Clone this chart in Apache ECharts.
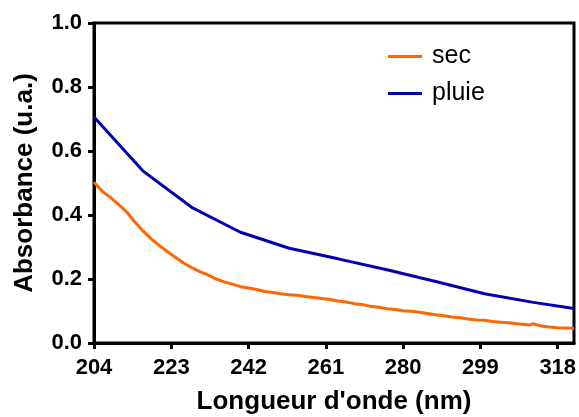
<!DOCTYPE html>
<html>
<head>
<meta charset="utf-8">
<script src="https://cdn.jsdelivr.net/npm/echarts@6/dist/echarts.min.js"></script>
<style>
  html, body { margin: 0; padding: 0; background: #fff; }
  #chart { width: 579px; height: 417px; }
</style>
</head>
<body>
<div id="chart"></div>
<script>
// x ticks shown on the axis (nm)
var xTicks = [204, 223, 242, 261, 280, 299, 318]

// saison sèche : spectre mesuré, pas de 2 nm
var secX = [204, 206, 208, 210, 212, 214, 216, 218, 220, 222, 224, 226, 228, 230, 232, 234, 236, 238, 240, 242,
  244, 246, 248, 250, 252, 254, 256, 258, 260, 262, 264, 266, 268, 270, 272, 274, 276, 278, 280, 282,
  284, 286, 288, 290, 292, 294, 296, 298, 300, 302, 304, 306, 308, 310, 311, 312, 313, 314, 316, 318, 320, 322]
var secY = [0.502, 0.474, 0.455, 0.433, 0.410, 0.379, 0.351, 0.326, 0.305, 0.286, 0.268, 0.250, 0.236, 0.223, 0.213, 0.200, 0.191, 0.184, 0.176, 0.172,
  0.167, 0.161, 0.158, 0.154, 0.151, 0.149, 0.145, 0.142, 0.139, 0.136, 0.131, 0.128, 0.123, 0.120, 0.115, 0.112, 0.107, 0.105, 0.101, 0.099,
  0.096, 0.092, 0.088, 0.085, 0.081, 0.079, 0.075, 0.072, 0.071, 0.067, 0.065, 0.063, 0.060, 0.058, 0.056, 0.060, 0.056, 0.053, 0.050, 0.048, 0.047, 0.046]

// saison des pluies
var pluieX = [204, 216, 228, 240, 252, 264, 276, 288, 300, 312, 322]
var pluieY = [0.706, 0.538, 0.424, 0.346, 0.296, 0.263, 0.229, 0.192, 0.154, 0.127, 0.108]

function pairs(xs, ys) {
  return xs.map(function(x, i) { return [x, ys[i]] })
}

var chart = echarts.init(document.getElementById('chart'))
var font = 'Arial, "Liberation Sans", sans-serif'

chart.setOption({
  animation: false,
  grid: {
    left: 94,
    right: 5,
    top: 23,
    bottom: 74,
    outerBoundsMode: 'none',
    show: true,
    borderColor: '#000',
    borderWidth: 3
  },
  legend: {
    orient: 'vertical',
    left: 383,
    top: 39,
    icon: 'rect',
    itemWidth: 34,
    itemHeight: 3,
    itemGap: 12,
    textStyle: {
      fontFamily: font,
      fontSize: 25,
      color: '#000',
      padding: [0, 0, 0, 5]
    },
    data: ['sec', 'pluie']
  },
  xAxis: {
    type: 'value',
    min: 204,
    max: 322,
    name: "Longueur d'onde (nm)",
    nameLocation: 'middle',
    nameGap: 46,
    nameTextStyle: {
      fontFamily: font,
      fontSize: 26,
      fontWeight: 'bold',
      color: '#000'
    },
    axisLine: { lineStyle: { color: '#000', width: 3 } },
    axisTick: {
      length: 6,
      lineStyle: { color: '#000', width: 3 },
      customValues: xTicks
    },
    axisLabel: {
      margin: 14,
      fontFamily: font,
      fontSize: 22,
      fontWeight: 'bold',
      color: '#000',
      customValues: xTicks,
      showMinLabel: true,
      showMaxLabel: true
    },
    splitLine: { show: false }
  },
  yAxis: {
    type: 'value',
    min: 0,
    max: 1,
    interval: 0.2,
    name: 'Absorbance (u.a.)',
    nameLocation: 'middle',
    nameGap: 56,
    nameTextStyle: {
      fontFamily: font,
      fontSize: 26,
      fontWeight: 'bold',
      color: '#000'
    },
    axisLine: { show: true, lineStyle: { color: '#000', width: 3 } },
    axisTick: { show: true, length: 6, lineStyle: { color: '#000', width: 3 } },
    axisLabel: {
      margin: 12,
      fontFamily: font,
      fontSize: 22,
      fontWeight: 'bold',
      color: '#000',
      formatter: function(v) { return v.toFixed(1) }
    },
    splitLine: { show: false }
  },
  series: [
    {
      name: 'sec',
      type: 'line',
      symbol: 'none',
      color: '#FF6600',
      lineStyle: { color: '#FF6600', width: 3 },
      data: pairs(secX, secY)
    },
    {
      name: 'pluie',
      type: 'line',
      symbol: 'none',
      color: '#0000B4',
      lineStyle: { color: '#0000B4', width: 3 },
      data: pairs(pluieX, pluieY)
    }
  ]
})
</script>
</body>
</html>
